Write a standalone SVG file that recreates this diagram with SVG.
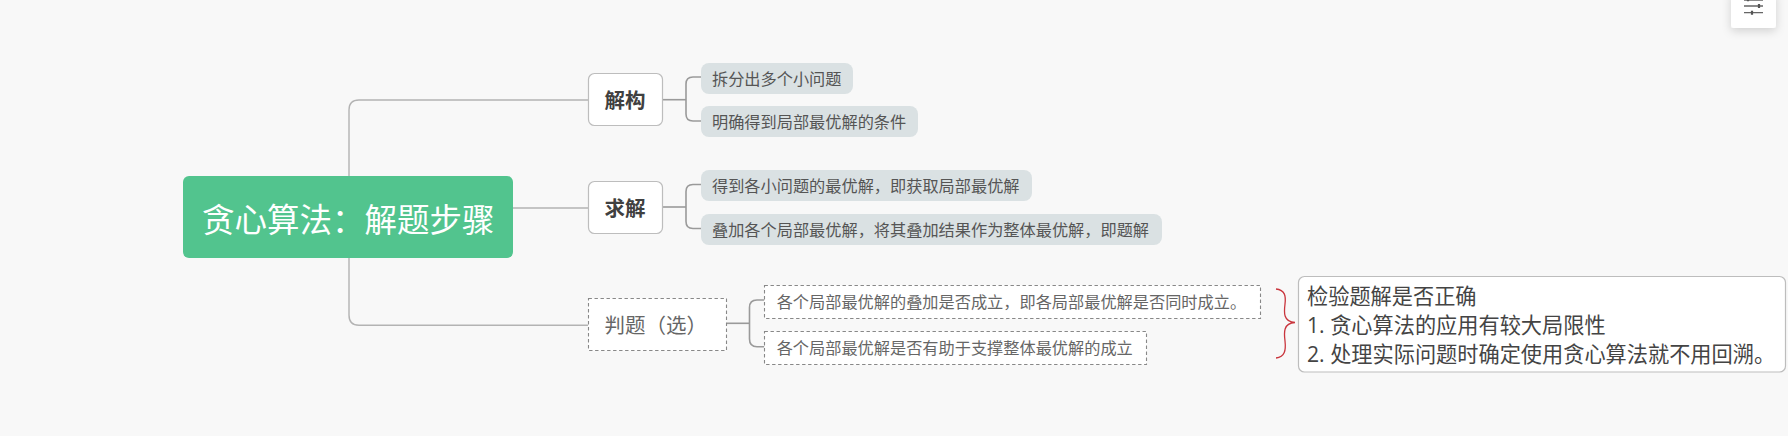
<svg xmlns="http://www.w3.org/2000/svg" width="1788" height="436" viewBox="0 0 1788 436">
  <style>
    text { font-family: "Noto Sans CJK SC", "Noto Sans", sans-serif; }
    .trunk { fill: none; stroke: #b3b3b3; stroke-width: 1.4; }
    .twig { fill: none; stroke: #9a9a9a; stroke-width: 1.6; }
    .branch { fill: #fff; stroke: #bdbdbd; stroke-width: 1.2; }
    .branch-text { font-size: 20.5px; font-weight: 700; fill: #404040; }
    .leaf { fill: #dae1e3; }
    .leaf-text { font-size: 16.2px; fill: #555; }
    .dash { fill: #fff; stroke: #888; stroke-width: 1.1; stroke-dasharray: 3.4 2.6; }
    .dash-text { font-size: 16.2px; fill: #666; }
    .note-text { font-family: "Open Sans", "Noto Sans CJK SC", sans-serif; font-size: 21.2px; fill: #444; }
  </style>
  <defs>
    <filter id="shadow" x="-40%" y="-60%" width="180%" height="240%">
      <feDropShadow dx="0" dy="3" stdDeviation="5" flood-color="#000" flood-opacity="0.16"/>
    </filter>
  </defs>
  <rect width="1788" height="436" fill="#f8f8f8"/>

  <g id="connectors">
    <path class="trunk" d="M349,176 V110 Q349,100 359,100 H588"/>
    <path class="trunk" d="M513,208 H588"/>
    <path class="trunk" d="M349,258 V315 Q349,325.3 359,325.3 H588"/>
    <path class="twig" d="M662,99.7 H686"/>
    <path class="twig" d="M701,77 H693 Q686,77 686,84 V114 Q686,121 693,121 H701"/>
    <path class="twig" d="M662,207 H686"/>
    <path class="twig" d="M701,184.5 H693 Q686,184.5 686,191.5 V221.5 Q686,228.5 693,228.5 H701"/>
    <path class="twig" d="M726.7,323.3 H749.5"/>
    <path class="twig" d="M764.3,300 H757 Q749.5,300 749.5,307.5 V339 Q749.5,346.7 757,346.7 H764.3"/>
  </g>

  <g id="root">
    <rect x="183" y="176" width="330" height="82" rx="6" fill="#52c48e"/>
    <text x="202" y="232" font-size="32.5" fill="#fff">贪心算法&#xFF1A;解题步骤</text>
  </g>

  <g id="node-jiegou">
    <rect class="branch" x="588.5" y="73.5" width="74" height="52" rx="6"/>
    <text class="branch-text" x="604.5" y="108">解构</text>
  </g>
  <g id="leaf-1">
    <rect class="leaf" x="701" y="63" width="152" height="31" rx="8"/>
    <text class="leaf-text" x="712" y="85">拆分出多个小问题</text>
  </g>
  <g id="leaf-2">
    <rect class="leaf" x="701" y="106" width="217" height="31" rx="8"/>
    <text class="leaf-text" x="712" y="128">明确得到局部最优解的条件</text>
  </g>

  <g id="node-qiujie">
    <rect class="branch" x="588.5" y="181.5" width="74" height="52" rx="6"/>
    <text class="branch-text" x="604.5" y="216">求解</text>
  </g>
  <g id="leaf-3">
    <rect class="leaf" x="701" y="170" width="331" height="31" rx="8"/>
    <text class="leaf-text" x="712" y="192">得到各小问题的最优解&#xFF0C;即获取局部最优解</text>
  </g>
  <g id="leaf-4">
    <rect class="leaf" x="701" y="214" width="461" height="31" rx="8"/>
    <text class="leaf-text" x="712" y="236">叠加各个局部最优解&#xFF0C;将其叠加结果作为整体最优解&#xFF0C;即题解</text>
  </g>

  <g id="node-panti">
    <rect class="dash" x="588.5" y="298.5" width="138" height="52"/>
    <text x="604.5" y="333" font-size="20.5" fill="#666">判题&#xFF08;选&#xFF09;</text>
  </g>
  <g id="leaf-5">
    <rect class="dash" x="764.5" y="285.5" width="496" height="33"/>
    <text class="dash-text" x="776.7" y="308">各个局部最优解的叠加是否成立&#xFF0C;即各局部最优解是否同时成立。</text>
  </g>
  <g id="leaf-6">
    <rect class="dash" x="764.5" y="331.5" width="382" height="33"/>
    <text class="dash-text" x="776.7" y="354">各个局部最优解是否有助于支撑整体最优解的成立</text>
  </g>

  <g id="summary-brace">
    <path d="M1276,289 C1285,290 1286,296 1285,304 C1284,312 1283,322 1295,322.5 C1283,323 1284,333 1285,341 C1286,350 1285,357 1276,358" fill="none" stroke="#c9353d" stroke-width="1.3"/>
  </g>
  <g id="summary-note">
    <rect x="1298.5" y="276.5" width="487" height="95.5" rx="6" fill="#fff" stroke="#bdbdbd" stroke-width="1.2"/>
    <text class="note-text" x="1307" y="303.5">检验题解是否正确</text>
    <text class="note-text" x="1307" y="332.5">1. 贪心算法的应用有较大局限性</text>
    <text class="note-text" x="1307" y="361.5">2. 处理实际问题时确定使用贪心算法就不用回溯。</text>
  </g>

  <g id="toolbar">
    <rect x="1731" y="-8" width="45" height="36" rx="3" fill="#fff" filter="url(#shadow)"/>
    <path d="M1744,0 H1763 M1744,6 H1763 M1744,12.7 H1763" stroke="#666" stroke-width="1.3" fill="none"/>
    <path d="M1748,0 V1.2 M1759,4 V8 M1752,10.7 V14.7" stroke="#555" stroke-width="2.2" fill="none"/>
  </g>
</svg>
